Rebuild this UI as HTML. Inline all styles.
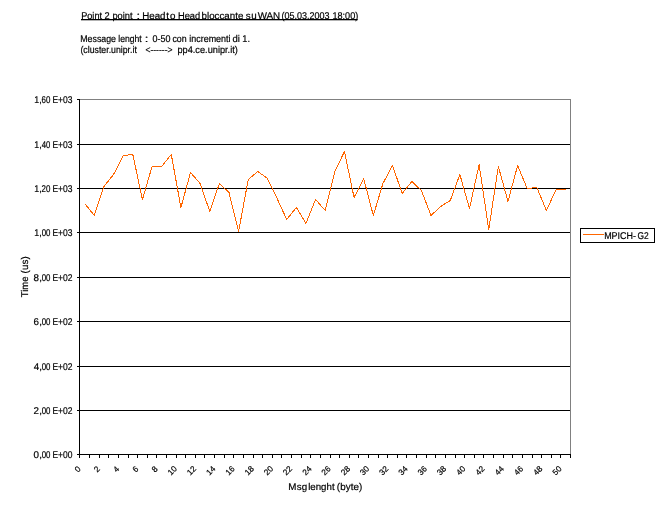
<!DOCTYPE html>
<html><head><meta charset="utf-8"><title>Point 2 point</title>
<style>
html,body{margin:0;padding:0;background:#fff;}
svg{display:block;font-family:"Liberation Sans",sans-serif;fill:#000;text-rendering:geometricPrecision;}
text{stroke:#000;stroke-width:0.2px;font-size:9.8px;}
</style></head><body>
<svg width="658" height="513" viewBox="0 0 658 513">
<rect x="0" y="0" width="658" height="513" fill="#fff"/>

<text y="19"><tspan x="81.20" textLength="20.83" lengthAdjust="spacingAndGlyphs">Point</tspan> <tspan x="104.58" textLength="5.15" lengthAdjust="spacingAndGlyphs">2</tspan> <tspan x="112.43" textLength="20.12" lengthAdjust="spacingAndGlyphs">point</tspan> <tspan x="136.50" textLength="3.63" lengthAdjust="spacingAndGlyphs">:</tspan> <tspan x="142.20" textLength="23.32" lengthAdjust="spacingAndGlyphs">Head</tspan> <tspan x="166.30" letter-spacing="1.100">to</tspan> <tspan x="177.94" textLength="22.26" lengthAdjust="spacingAndGlyphs">Head</tspan> <tspan x="201.60" textLength="41.75" lengthAdjust="spacingAndGlyphs">bloccante</tspan> <tspan x="245.70" letter-spacing="0.700">su</tspan> <tspan x="257.70" textLength="22.50" lengthAdjust="spacingAndGlyphs">WAN</tspan> <tspan x="281.55" textLength="48.03" lengthAdjust="spacingAndGlyphs">(05.03.2003</tspan> <tspan x="332.45" textLength="25.80" lengthAdjust="spacingAndGlyphs">18:00)</tspan></text>
<rect x="81" y="19" width="276.7" height="1.3" fill="#000"/>
<text y="42"><tspan x="80.28" textLength="35.74" lengthAdjust="spacingAndGlyphs">Message</tspan> <tspan x="118.28" textLength="23.51" lengthAdjust="spacingAndGlyphs">lenght</tspan> <tspan x="144.70" textLength="3.63" lengthAdjust="spacingAndGlyphs">:</tspan> <tspan x="152.53" textLength="17.95" lengthAdjust="spacingAndGlyphs">0-50</tspan> <tspan x="172.44" textLength="14.20" lengthAdjust="spacingAndGlyphs">con</tspan> <tspan x="189.31" textLength="41.23" lengthAdjust="spacingAndGlyphs">incrementi</tspan> <tspan x="232.51" textLength="7.40" lengthAdjust="spacingAndGlyphs">di</tspan> <tspan x="242.34" textLength="7.68" lengthAdjust="spacingAndGlyphs">1.</tspan></text>
<text y="53"><tspan x="80.46" textLength="56.41" lengthAdjust="spacingAndGlyphs">(cluster.unipr.it</tspan> <tspan x="145.47" textLength="26.99" lengthAdjust="spacingAndGlyphs">&lt;------&gt;</tspan> <tspan x="177.44" textLength="60.41" lengthAdjust="spacingAndGlyphs">pp4.ce.unipr.it)</tspan></text>
<g shape-rendering="crispEdges">
<rect x="79" y="99" width="492" height="1" fill="#808080"/>
<rect x="570" y="99" width="1" height="356" fill="#808080"/>
<rect x="79" y="144" width="491" height="1" fill="#000"/>
<rect x="79" y="188" width="491" height="1" fill="#000"/>
<rect x="79" y="232" width="491" height="1" fill="#000"/>
<rect x="79" y="277" width="491" height="1" fill="#000"/>
<rect x="79" y="321" width="491" height="1" fill="#000"/>
<rect x="79" y="366" width="491" height="1" fill="#000"/>
<rect x="79" y="410" width="491" height="1" fill="#000"/>
<rect x="79" y="454" width="492" height="1" fill="#000"/>
<rect x="79" y="99" width="1" height="356" fill="#000"/>
<rect x="77" y="99" width="2" height="1" fill="#000"/>
<rect x="77" y="144" width="2" height="1" fill="#000"/>
<rect x="77" y="188" width="2" height="1" fill="#000"/>
<rect x="77" y="232" width="2" height="1" fill="#000"/>
<rect x="77" y="277" width="2" height="1" fill="#000"/>
<rect x="77" y="321" width="2" height="1" fill="#000"/>
<rect x="77" y="366" width="2" height="1" fill="#000"/>
<rect x="77" y="410" width="2" height="1" fill="#000"/>
<rect x="77" y="454" width="2" height="1" fill="#000"/>
<rect x="79" y="455" width="1" height="3" fill="#000"/>
<rect x="89" y="455" width="1" height="3" fill="#000"/>
<rect x="99" y="455" width="1" height="3" fill="#000"/>
<rect x="108" y="455" width="1" height="3" fill="#000"/>
<rect x="118" y="455" width="1" height="3" fill="#000"/>
<rect x="128" y="455" width="1" height="3" fill="#000"/>
<rect x="137" y="455" width="1" height="3" fill="#000"/>
<rect x="147" y="455" width="1" height="3" fill="#000"/>
<rect x="156" y="455" width="1" height="3" fill="#000"/>
<rect x="166" y="455" width="1" height="3" fill="#000"/>
<rect x="176" y="455" width="1" height="3" fill="#000"/>
<rect x="185" y="455" width="1" height="3" fill="#000"/>
<rect x="195" y="455" width="1" height="3" fill="#000"/>
<rect x="204" y="455" width="1" height="3" fill="#000"/>
<rect x="214" y="455" width="1" height="3" fill="#000"/>
<rect x="224" y="455" width="1" height="3" fill="#000"/>
<rect x="233" y="455" width="1" height="3" fill="#000"/>
<rect x="243" y="455" width="1" height="3" fill="#000"/>
<rect x="253" y="455" width="1" height="3" fill="#000"/>
<rect x="262" y="455" width="1" height="3" fill="#000"/>
<rect x="272" y="455" width="1" height="3" fill="#000"/>
<rect x="281" y="455" width="1" height="3" fill="#000"/>
<rect x="291" y="455" width="1" height="3" fill="#000"/>
<rect x="301" y="455" width="1" height="3" fill="#000"/>
<rect x="310" y="455" width="1" height="3" fill="#000"/>
<rect x="320" y="455" width="1" height="3" fill="#000"/>
<rect x="330" y="455" width="1" height="3" fill="#000"/>
<rect x="339" y="455" width="1" height="3" fill="#000"/>
<rect x="349" y="455" width="1" height="3" fill="#000"/>
<rect x="358" y="455" width="1" height="3" fill="#000"/>
<rect x="368" y="455" width="1" height="3" fill="#000"/>
<rect x="378" y="455" width="1" height="3" fill="#000"/>
<rect x="387" y="455" width="1" height="3" fill="#000"/>
<rect x="397" y="455" width="1" height="3" fill="#000"/>
<rect x="406" y="455" width="1" height="3" fill="#000"/>
<rect x="416" y="455" width="1" height="3" fill="#000"/>
<rect x="426" y="455" width="1" height="3" fill="#000"/>
<rect x="435" y="455" width="1" height="3" fill="#000"/>
<rect x="445" y="455" width="1" height="3" fill="#000"/>
<rect x="455" y="455" width="1" height="3" fill="#000"/>
<rect x="464" y="455" width="1" height="3" fill="#000"/>
<rect x="474" y="455" width="1" height="3" fill="#000"/>
<rect x="483" y="455" width="1" height="3" fill="#000"/>
<rect x="493" y="455" width="1" height="3" fill="#000"/>
<rect x="503" y="455" width="1" height="3" fill="#000"/>
<rect x="512" y="455" width="1" height="3" fill="#000"/>
<rect x="522" y="455" width="1" height="3" fill="#000"/>
<rect x="532" y="455" width="1" height="3" fill="#000"/>
<rect x="541" y="455" width="1" height="3" fill="#000"/>
<rect x="551" y="455" width="1" height="3" fill="#000"/>
<rect x="560" y="455" width="1" height="3" fill="#000"/>
<rect x="570" y="455" width="1" height="3" fill="#000"/>
</g>
<text y="103"><tspan x="34.36" textLength="7.43" lengthAdjust="spacingAndGlyphs">1,</tspan><tspan x="41.59" textLength="8.83" lengthAdjust="spacingAndGlyphs">60</tspan><tspan x="52.41" textLength="20.09" lengthAdjust="spacingAndGlyphs">E+03</tspan></text>
<text y="148"><tspan x="34.36" textLength="7.43" lengthAdjust="spacingAndGlyphs">1,</tspan><tspan x="41.84" textLength="8.57" lengthAdjust="spacingAndGlyphs">40</tspan><tspan x="52.41" textLength="20.09" lengthAdjust="spacingAndGlyphs">E+03</tspan></text>
<text y="192"><tspan x="34.36" textLength="7.43" lengthAdjust="spacingAndGlyphs">1,</tspan><tspan x="41.59" textLength="8.83" lengthAdjust="spacingAndGlyphs">20</tspan><tspan x="52.41" textLength="20.09" lengthAdjust="spacingAndGlyphs">E+03</tspan></text>
<text y="236"><tspan x="34.36" textLength="7.43" lengthAdjust="spacingAndGlyphs">1,</tspan><tspan x="41.68" textLength="8.74" lengthAdjust="spacingAndGlyphs">00</tspan><tspan x="52.41" textLength="20.09" lengthAdjust="spacingAndGlyphs">E+03</tspan></text>
<text y="281"><tspan x="33.50" letter-spacing="0.200">8,</tspan><tspan x="41.68" textLength="8.74" lengthAdjust="spacingAndGlyphs">00</tspan><tspan x="52.41" textLength="20.09" lengthAdjust="spacingAndGlyphs">E+02</tspan></text>
<text y="325"><tspan x="33.40" letter-spacing="0.300">6,</tspan><tspan x="41.68" textLength="8.74" lengthAdjust="spacingAndGlyphs">00</tspan><tspan x="52.41" textLength="20.09" lengthAdjust="spacingAndGlyphs">E+02</tspan></text>
<text y="370"><tspan x="33.70" letter-spacing="0.000">4,</tspan><tspan x="41.68" textLength="8.74" lengthAdjust="spacingAndGlyphs">00</tspan><tspan x="52.41" textLength="20.09" lengthAdjust="spacingAndGlyphs">E+02</tspan></text>
<text y="414"><tspan x="33.40" letter-spacing="0.300">2,</tspan><tspan x="41.68" textLength="8.74" lengthAdjust="spacingAndGlyphs">00</tspan><tspan x="52.41" textLength="20.09" lengthAdjust="spacingAndGlyphs">E+02</tspan></text>
<text y="458"><tspan x="33.50" letter-spacing="0.200">0,</tspan><tspan x="41.68" textLength="8.74" lengthAdjust="spacingAndGlyphs">00</tspan><tspan x="52.41" textLength="20.00" lengthAdjust="spacingAndGlyphs">E+00</tspan></text>
<polyline fill="none" stroke="#ff6600" stroke-width="1" stroke-linejoin="bevel" shape-rendering="crispEdges" points="84.7,203.5 94.32,215.5 103.94,186.5 113.56,174.5 123.18,155.5 132.8,154.5 142.42,199.5 152.04,166.5 161.66,166.5 171.28,154.5 180.9,207.5 190.52,172.5 200.14,183.5 209.76,211.5 219.38,183.5 229.0,192.5 238.62,231.5 248.24,179.5 257.86,171.5 267.48,178.5 277.1,198.5 286.72,219.5 296.34,207.5 305.96,223.5 315.58,199.5 325.2,210.5 334.82,171.5 344.44,151.5 354.06,197.5 363.68,178.5 373.3,215.5 382.92,183.5 392.54,165.5 402.16,193.5 411.78,181.5 421.4,190.5 431.02,215.5 440.64,206.5 450.26,200.5 459.88,174.5 469.5,208.5 479.12,164.5 488.74,229.5 498.36,166.5 507.98,201.5 517.6,165.5 527.22,188.5 536.84,187.5 546.46,210.5 556.08,189.5 565.7,189.5"/>
<text transform="translate(81.2,469.4) rotate(-45)" text-anchor="end" style="font-size:8.2px">0</text>
<text transform="translate(100.4,469.4) rotate(-45)" text-anchor="end" style="font-size:8.2px">2</text>
<text transform="translate(119.7,469.4) rotate(-45)" text-anchor="end" style="font-size:8.2px">4</text>
<text transform="translate(138.9,469.4) rotate(-45)" text-anchor="end" style="font-size:8.2px">6</text>
<text transform="translate(158.2,469.4) rotate(-45)" text-anchor="end" style="font-size:8.2px">8</text>
<text transform="translate(177.4,469.4) rotate(-45)" text-anchor="end" style="font-size:8.2px">10</text>
<text transform="translate(196.6,469.4) rotate(-45)" text-anchor="end" style="font-size:8.2px">12</text>
<text transform="translate(215.9,469.4) rotate(-45)" text-anchor="end" style="font-size:8.2px">14</text>
<text transform="translate(235.1,469.4) rotate(-45)" text-anchor="end" style="font-size:8.2px">16</text>
<text transform="translate(254.4,469.4) rotate(-45)" text-anchor="end" style="font-size:8.2px">18</text>
<text transform="translate(273.6,469.4) rotate(-45)" text-anchor="end" style="font-size:8.2px">20</text>
<text transform="translate(292.8,469.4) rotate(-45)" text-anchor="end" style="font-size:8.2px">22</text>
<text transform="translate(312.1,469.4) rotate(-45)" text-anchor="end" style="font-size:8.2px">24</text>
<text transform="translate(331.3,469.4) rotate(-45)" text-anchor="end" style="font-size:8.2px">26</text>
<text transform="translate(350.6,469.4) rotate(-45)" text-anchor="end" style="font-size:8.2px">28</text>
<text transform="translate(369.8,469.4) rotate(-45)" text-anchor="end" style="font-size:8.2px">30</text>
<text transform="translate(389.0,469.4) rotate(-45)" text-anchor="end" style="font-size:8.2px">32</text>
<text transform="translate(408.3,469.4) rotate(-45)" text-anchor="end" style="font-size:8.2px">34</text>
<text transform="translate(427.5,469.4) rotate(-45)" text-anchor="end" style="font-size:8.2px">36</text>
<text transform="translate(446.8,469.4) rotate(-45)" text-anchor="end" style="font-size:8.2px">38</text>
<text transform="translate(466.0,469.4) rotate(-45)" text-anchor="end" style="font-size:8.2px">40</text>
<text transform="translate(485.2,469.4) rotate(-45)" text-anchor="end" style="font-size:8.2px">42</text>
<text transform="translate(504.5,469.4) rotate(-45)" text-anchor="end" style="font-size:8.2px">44</text>
<text transform="translate(523.7,469.4) rotate(-45)" text-anchor="end" style="font-size:8.2px">46</text>
<text transform="translate(543.0,469.4) rotate(-45)" text-anchor="end" style="font-size:8.2px">48</text>
<text transform="translate(562.2,469.4) rotate(-45)" text-anchor="end" style="font-size:8.2px">50</text>
<text y="490"><tspan x="288.20" letter-spacing="0.300">Msg</tspan> <tspan x="308.21" textLength="26.39" lengthAdjust="spacingAndGlyphs">lenght</tspan> <tspan x="336.80" letter-spacing="0.080">(byte)</tspan></text>
<text y="0" transform="translate(28,0) rotate(-90)"><tspan x="-297.19" textLength="20.69" lengthAdjust="spacingAndGlyphs">Time</tspan> <tspan x="-273.55" letter-spacing="0.183">(us)</tspan></text>
<rect x="580.5" y="228.5" width="74" height="14" fill="#fff" stroke="#000" stroke-width="1" shape-rendering="crispEdges"/>
<rect x="583" y="234" width="21" height="1" fill="#ff6600" shape-rendering="crispEdges"/>
<text y="239"><tspan x="604.17" textLength="31.83" lengthAdjust="spacingAndGlyphs">MPICH-</tspan><tspan x="637.47" textLength="11.24" lengthAdjust="spacingAndGlyphs">G2</tspan></text>
</svg></body></html>
